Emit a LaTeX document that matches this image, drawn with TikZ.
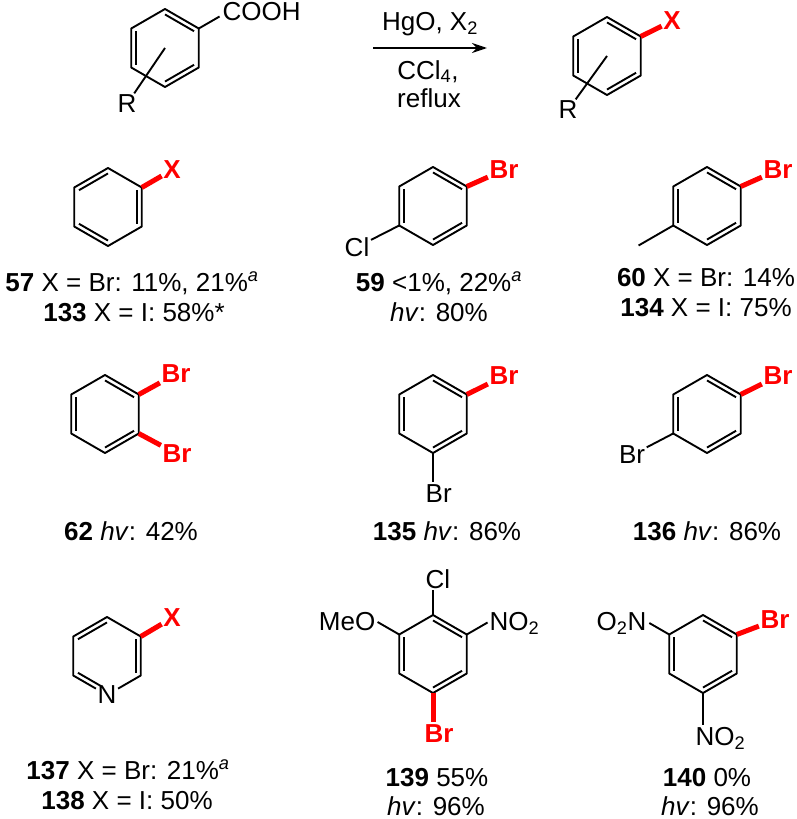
\documentclass[tikz,border=0pt]{standalone}
\usepackage{fontspec}
\setmainfont{Liberation Sans}
\usetikzlibrary{calc,arrows.meta}

\newcommand{\chemfont}{\fontsize{26}{31}\selectfont}
% corners of a ring: name-1 top, then clockwise
\newcommand{\hexcoords}[2]{%
  \coordinate (#1) at (#2);
  \foreach \k in {1,...,6}
    \coordinate (#1-\k) at ($(#1)+(150-60*\k:39pt)$);
}
\newcommand{\hexring}[3]{%
  \hexcoords{#1}{#2}
  \draw[bond] (#1-1) -- (#1-2) -- (#1-3) -- (#1-4) -- (#1-5) -- (#1-6) -- cycle;
  \foreach \a/\b in {#3}
    \draw[bond] ($(#1)!0.86!(#1-\a)$) -- ($(#1)!0.86!(#1-\b)$);
}

\begin{document}
\begin{tikzpicture}[x=1pt, y=-1pt,
    bond/.style={line width=1.9pt, line join=round},
    halobond/.style={red, line width=5pt},
    atom/.style={inner sep=1.5pt, font=\chemfont},
    halo/.style={atom, red, font=\chemfont\bfseries},
    cpd/.style={anchor=base, font=\chemfont}]
  \useasboundingbox (0,0) rectangle (796,819);

  % reaction
  \hexring{sm}{165,48}{6/5,1/2,3/4}
  \coordinate (sm-c) at ($(sm-2)+(30:24pt)$);
  \draw[bond] (sm-2) -- (sm-c);
  \node[atom, anchor=base west] (cooh) at (221,20) {COOH};
  \node[atom] (rsm) at (127,104) {R};
  \draw[bond] (rsm) -- (sm);

  \coordinate (arrS) at (373,48);
  \coordinate (arrE) at (487,48);
  \draw[bond, -{Stealth[length=15pt,width=10pt]}] (arrS) -- (arrE);
  \node[cpd] (reag) at (430,30) {HgO, X\textsubscript{2}};
  \node[cpd] (solv) at (428,79) {CCl\textsubscript{4},};
  \node[cpd] (cond) at (429,107) {reflux};

  \hexring{pr}{607,56}{6/5,1/2,3/4}
  \node[halo] (xpr) at (672,21) {X};
  \draw[halobond] (pr-2) -- (xpr);
  \node[atom] (rpr) at (568,110) {R};
  \draw[bond] (rpr) -- (pr);

  % first row
  \hexring{c57}{108,207}{6/1,2/3,5/4}
  \node[halo] (x57) at (172,170) {X};
  \draw[halobond] (c57-2) -- (x57);
  \node[cpd] (l57) at (132,291) {\textbf{57} X = Br: 11\%, 21\%\textsuperscript{\textit{a}}};
  \node[cpd] (l133) at (134,321) {\textbf{133} X = I: 58\%*};

  \hexring{c59}{433,206}{6/5,1/2,3/4}
  \node[halo] (br59) at (504,170) {Br};
  \draw[halobond] (c59-2) -- (br59);
  \node[atom] (cl59) at (357,247) {Cl};
  \draw[bond] (c59-5) -- (cl59);
  \node[cpd] (l59) at (439,291) {\textbf{59} <1\%, 22\%\textsuperscript{\textit{a}}};
  \node[cpd] (l59b) at (439,321) {\textit{hv}: 80\%};

  \hexring{c60}{707,206}{6/5,1/2,3/4}
  \node[halo] (br60) at (778,170) {Br};
  \draw[halobond] (c60-2) -- (br60);
  \coordinate (me60) at ($(c60-5)+(-150:40pt)$);
  \draw[bond] (c60-5) -- (me60);
  \node[cpd] (l60) at (706,286) {\textbf{60} X = Br: 14\%};
  \node[cpd] (l134) at (706,316) {\textbf{134} X = I: 75\%};

  % second row
  \hexring{c62}{105,414}{6/5,1/2,3/4}
  \node[halo] (br62a) at (176,374) {Br};
  \node[halo] (br62b) at (177,454) {Br};
  \draw[halobond] (c62-2) -- (br62a);
  \draw[halobond] (c62-3) -- (br62b);
  \node[cpd] (l62) at (131,540) {\textbf{62} \textit{hv}: 42\%};

  \hexring{c135}{433,414}{6/5,1/2,3/4}
  \node[halo] (br135) at (504,376) {Br};
  \draw[halobond] (c135-2) -- (br135);
  \node[atom, anchor=base west] (br135b) at (424,502) {Br};
  \draw[bond] (c135-4) -- (c135-4 |- br135b.north);
  \node[cpd] (l135) at (447,540) {\textbf{135} \textit{hv}: 86\%};

  \hexring{c136}{707,414}{6/5,1/2,3/4}
  \node[halo] (br136) at (778,376) {Br};
  \draw[halobond] (c136-2) -- (br136);
  \node[atom] (br136b) at (632,455) {Br};
  \draw[bond] (c136-5) -- (br136b);
  \node[cpd] (l136) at (707,540) {\textbf{136} \textit{hv}: 86\%};

  % third row
  \hexcoords{c137}{107,656}
  \node[atom] (n137) at (c137-4) {N};
  \draw[bond] (n137) -- (c137-3) -- (c137-2) -- (c137-1) -- (c137-6) -- (c137-5) -- (n137);
  \draw[bond] ($(c137)!0.86!(c137-6)$) -- ($(c137)!0.86!(c137-1)$);
  \draw[bond] ($(c137)!0.86!(c137-2)$) -- ($(c137)!0.86!(c137-3)$);
  \draw[bond, shorten >=7pt] ($(c137)!0.86!(c137-5)$) -- ($(c137)!0.86!(c137-4)$);
  \node[halo] (x137) at (172,618) {X};
  \draw[halobond] (c137-2) -- (x137);
  \node[cpd] (l137) at (128,779) {\textbf{137} X = Br: 21\%\textsuperscript{\textit{a}}};
  \node[cpd] (l138) at (127,809) {\textbf{138} X = I: 50\%};

  \hexring{c139}{433,654}{6/5,1/2,3/4}
  \node[atom, anchor=base west] (cl139) at (424,588) {Cl};
  \draw[bond] (c139-1) -- (c139-1 |- cl139.south);
  \coordinate (n139) at ($(c139-2)+(30:24pt)$);
  \draw[bond] (c139-2) -- (n139);
  \node[atom, anchor=base west] (no139) at (488,630) {NO\textsubscript{2}};
  \coordinate (o139) at ($(c139-6)+(150:25pt)$);
  \draw[bond] (c139-6) -- (o139);
  \node[atom, anchor=base east] (meo139) at (377,630) {MeO};
  \node[halo, anchor=base west] (br139) at (423,742) {Br};
  \draw[halobond] (c139-4) -- (c139-4 |- br139.north);
  \node[cpd] (l139) at (437,786) {\textbf{139} 55\%};
  \node[cpd] (l139b) at (436,815) {\textit{hv}: 96\%};

  \hexring{c140}{703,654}{6/5,1/2,3/4}
  \node[halo] (br140) at (775,620) {Br};
  \draw[halobond] (c140-2) -- (br140);
  \coordinate (n140a) at ($(c140-6)+(150:23pt)$);
  \draw[bond] (c140-6) -- (n140a);
  \node[atom, anchor=base east] (no140a) at (648,630) {O\textsubscript{2}N};
  \node[atom, anchor=base west] (no140b) at (694,745) {NO\textsubscript{2}};
  \draw[bond] (c140-4) -- (c140-4 |- no140b.north);
  \node[cpd] (l140) at (707,786) {\textbf{140} 0\%};
  \node[cpd] (l140b) at (710,815) {\textit{hv}: 96\%};
\end{tikzpicture}
\end{document}
